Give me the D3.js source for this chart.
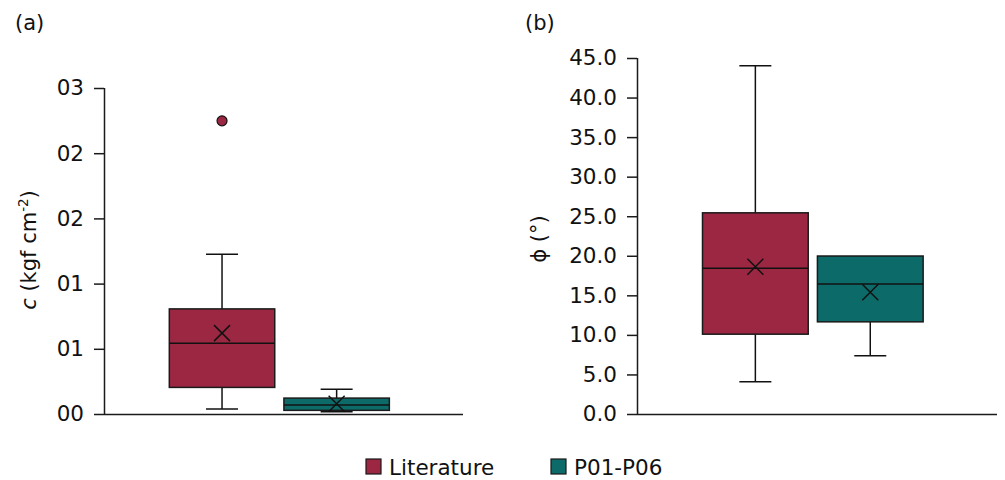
<!DOCTYPE html>
<html><head><meta charset="utf-8">
<script src="https://cdn.jsdelivr.net/npm/d3@7"></script>
<style>body{margin:0;background:#fff}svg{display:block;font-family:"DejaVu Sans",sans-serif}</style>
</head><body><svg id="chart" width="1005" height="480"></svg>
<script>
const categories = ["Literature", "P01-P06"];
const colors = ["#9c2742", "#0c6b68"];
// panel (a): cohesion c
const cMin = [0.038, 0.018];
const cQ1 = [0.204, 0.028];
const cMedian = [0.543, 0.069];
const cQ3 = [0.806, 0.122];
const cMax = [1.225, 0.19];
const cMean = [0.62, 0.079];
const cOutliers = [[2.248], []];
const cTicks = [0, 0.5, 1, 1.5, 2, 2.5];
const cTickLabels = ["00", "01", "01", "02", "02", "03"];
// panel (b): friction angle phi
const phiMin = [4.08, 7.36];
const phiQ1 = [10.09, 11.65];
const phiMedian = [18.42, 16.44];
const phiQ3 = [25.43, 19.97];
const phiMax = [44.03, 19.97];
const phiMean = [18.62, 15.39];
const phiOutliers = [[], []];
const phiTicks = [0, 5, 10, 15, 20, 25, 30, 35, 40, 45];

const svg = d3.select("#chart");
const FS = 21.5;

function panel(opt) {
  const g = svg.append("g");
  const x = d3.scaleBand().domain(["all"]).range([opt.left, opt.right]).padding(0.24).align(0.47);
  const xs = d3.scaleBand().domain(categories).range([0, x.bandwidth()]).paddingInner(0.08);
  const y = d3.scaleLinear().domain(opt.domain).range([opt.bottom, opt.top]);

  const yAxis = d3.axisLeft(y).tickValues(opt.ticks).tickFormat(opt.fmt).tickSize(10).tickPadding(10);
  const ya = g.append("g").attr("transform", `translate(${opt.left},0)`).call(yAxis);
  ya.selectAll("path,line").attr("stroke", "#1a1a1a").attr("stroke-width", 1.5);
  ya.select(".domain").attr("d", `M0.5,${opt.top}V${opt.bottom}`);
  ya.selectAll("text").attr("font-size", FS).attr("fill", "#111").attr("font-family", "DejaVu Sans");

  g.append("line").attr("x1", opt.left).attr("x2", opt.right)
    .attr("y1", y(0) + 0.5).attr("y2", y(0) + 0.5).attr("stroke", "#1a1a1a").attr("stroke-width", 1.5);

  const d = categories.map((c, i) => ({
    c, i, min: opt.min[i], q1: opt.q1[i], med: opt.median[i], q3: opt.q3[i],
    max: opt.max[i], mean: opt.mean[i], out: opt.outliers[i]
  }));
  const bx = c => x("all") + xs(c);
  const bw = xs.bandwidth();
  const capW = 32;
  const items = g.selectAll("g.box").data(d).join("g").attr("class", "box");
  // whiskers
  items.append("line").attr("x1", v => bx(v.c) + bw / 2).attr("x2", v => bx(v.c) + bw / 2)
    .attr("y1", v => y(v.max)).attr("y2", v => y(v.q3)).attr("stroke", "#111").attr("stroke-width", 1.5);
  items.append("line").attr("x1", v => bx(v.c) + bw / 2).attr("x2", v => bx(v.c) + bw / 2)
    .attr("y1", v => y(v.q1)).attr("y2", v => y(v.min)).attr("stroke", "#111").attr("stroke-width", 1.5);
  items.filter(v => v.max > v.q3).append("line").attr("x1", v => bx(v.c) + bw / 2 - capW / 2).attr("x2", v => bx(v.c) + bw / 2 + capW / 2)
    .attr("y1", v => y(v.max)).attr("y2", v => y(v.max)).attr("stroke", "#111").attr("stroke-width", 1.5);
  items.append("line").attr("x1", v => bx(v.c) + bw / 2 - capW / 2).attr("x2", v => bx(v.c) + bw / 2 + capW / 2)
    .attr("y1", v => y(v.min)).attr("y2", v => y(v.min)).attr("stroke", "#111").attr("stroke-width", 1.5);
  // box
  items.append("rect").attr("x", v => bx(v.c)).attr("width", bw)
    .attr("y", v => y(v.q3)).attr("height", v => y(v.q1) - y(v.q3))
    .attr("fill", v => colors[v.i]).attr("stroke", "#1a1a1a").attr("stroke-width", 1.5);
  // median
  items.append("line").attr("x1", v => bx(v.c)).attr("x2", v => bx(v.c) + bw)
    .attr("y1", v => y(v.med)).attr("y2", v => y(v.med)).attr("stroke", "#111").attr("stroke-width", 1.5);
  // mean X
  const s = 8;
  items.append("path").attr("d", v => {
    const cx = bx(v.c) + bw / 2, cy = y(v.mean);
    return `M${cx - s},${cy - s}L${cx + s},${cy + s}M${cx - s},${cy + s}L${cx + s},${cy - s}`;
  }).attr("stroke", "#111").attr("stroke-width", 1.5).attr("fill", "none");
  // outliers
  items.selectAll("circle").data(v => v.out.map(o => ({ o, v }))).join("circle")
    .attr("cx", p => bx(p.v.c) + bw / 2).attr("cy", p => y(p.o)).attr("r", 5)
    .attr("fill", p => colors[p.v.i]).attr("stroke", "#111").attr("stroke-width", 1.2);

  svg.append("text").attr("x", opt.labelX).attr("y", 30).attr("font-size", 21).attr("fill", "#111").text(opt.panel);
  return { g, y };
}

const a = panel({
  left: 104, right: 463, top: 88, bottom: 414, domain: [0, 2.5],
  ticks: cTicks, fmt: (v, i) => cTickLabels[i],
  min: cMin, q1: cQ1, median: cMedian, q3: cQ3, max: cMax, mean: cMean, outliers: cOutliers,
  panel: "(a)", labelX: 15
});
const b = panel({
  left: 637, right: 997, top: 58, bottom: 414, domain: [0, 45],
  ticks: phiTicks, fmt: d3.format(".1f"),
  min: phiMin, q1: phiQ1, median: phiMedian, q3: phiQ3, max: phiMax, mean: phiMean, outliers: phiOutliers,
  panel: "(b)", labelX: 525
});

// y-axis titles
const ta = svg.append("text").attr("transform", "translate(36,250) rotate(-90)")
  .attr("text-anchor", "middle").attr("font-size", 21).attr("fill", "#111");
ta.append("tspan").attr("font-style", "italic").text("c");
ta.append("tspan").text(" (kgf cm");
ta.append("tspan").attr("font-size", 13.5).attr("dy", -8).text("-2");
ta.append("tspan").attr("dy", 8).text(")");

svg.append("text").attr("transform", "translate(546,239) rotate(-90)")
  .attr("text-anchor", "middle").attr("font-size", 21).attr("fill", "#111").text("ϕ (°)");

// legend
const legend = svg.append("g");
const legX = [366, 551];
categories.forEach((c, i) => {
  legend.append("rect").attr("x", legX[i]).attr("y", 459).attr("width", 15).attr("height", 15)
    .attr("fill", colors[i]).attr("stroke", "#1a1a1a").attr("stroke-width", 1.2);
  legend.append("text").attr("x", legX[i] + 23).attr("y", 475).attr("font-size", FS).attr("fill", "#111").text(c);
});
</script></body></html>
